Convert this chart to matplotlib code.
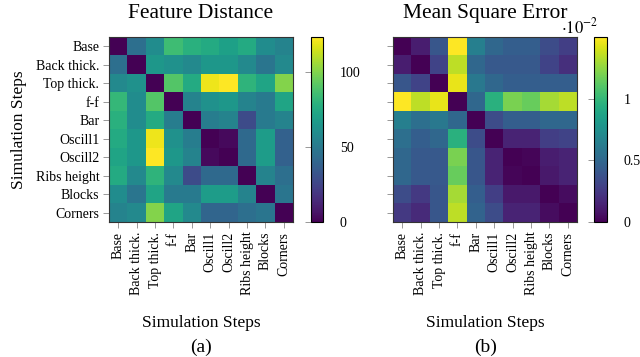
import numpy as np
import matplotlib.pyplot as plt

plt.rcParams['font.family'] = ['Liberation Serif', 'DejaVu Serif']
plt.rcParams['mathtext.fontset'] = 'stix'

steps = ["Base", "Back thick.", "Top thick.", "f-f", "Bar", "Oscill1",
         "Oscill2", "Ribs height", "Blocks", "Corners"]

# feature distance matrix
featDist = [
    [0, 45, 60, 85, 78, 75, 70, 75, 60, 55],
    [45, 0, 65, 62, 58, 65, 65, 58, 48, 58],
    [58, 62, 0, 90, 75, 120, 123, 80, 72, 100],
    [82, 60, 90, 0, 55, 62, 65, 55, 50, 72],
    [78, 60, 75, 52, 0, 52, 55, 28, 50, 55],
    [75, 65, 120, 62, 52, 0, 3, 42, 68, 38],
    [72, 65, 123, 65, 55, 3, 0, 42, 68, 38],
    [75, 58, 80, 58, 28, 42, 42, 0, 55, 45],
    [60, 48, 72, 50, 50, 68, 68, 55, 0, 48],
    [55, 58, 100, 72, 58, 40, 40, 45, 48, 0],
]

# mean square error (x 1e-2)
mse = [
    [0, 0.12, 0.40, 1.50, 0.65, 0.50, 0.45, 0.45, 0.35, 0.28],
    [0.12, 0, 0.30, 1.35, 0.50, 0.42, 0.42, 0.42, 0.30, 0.20],
    [0.40, 0.30, 0, 1.45, 0.60, 0.50, 0.45, 0.45, 0.45, 0.45],
    [1.50, 1.35, 1.45, 0, 0.50, 0.95, 1.20, 1.15, 1.30, 1.35],
    [0.65, 0.55, 0.60, 0.50, 0, 0.35, 0.45, 0.45, 0.50, 0.50],
    [0.55, 0.45, 0.50, 0.95, 0.35, 0, 0.15, 0.15, 0.28, 0.30],
    [0.50, 0.42, 0.42, 1.20, 0.40, 0.15, 0, 0.02, 0.12, 0.15],
    [0.50, 0.42, 0.42, 1.15, 0.40, 0.15, 0.02, 0, 0.10, 0.15],
    [0.35, 0.25, 0.40, 1.30, 0.45, 0.28, 0.10, 0.10, 0, 0.05],
    [0.25, 0.18, 0.40, 1.35, 0.48, 0.35, 0.15, 0.15, 0.05, 0],
]

W, H = 640, 357
fig = plt.figure(figsize=(6.4, 3.57), dpi=100)

def px(x0, y0, x1, y1):
    return [x0 / W, 1 - y1 / H, (x1 - x0) / W, (y1 - y0) / H]

def drawHeat(axRect, cbRect, data, title, cbTicks, cbLabels, showY):
    ax = fig.add_axes(px(*axRect))
    im = ax.imshow(np.array(data), cmap='viridis', aspect='auto',
                   vmin=0, vmax=np.max(data))
    ax.set_xticks(range(len(steps)))
    ax.set_xticklabels(steps, rotation=90, fontsize=10)
    ax.set_yticks(range(len(steps)))
    if showY:
        ax.set_yticklabels(steps, fontsize=10)
        ax.set_ylabel("Simulation Steps", fontsize=12.5, labelpad=6)
    else:
        ax.set_yticklabels([])
    ax.set_xlabel("Simulation Steps", fontsize=12.5, labelpad=14)
    ax.set_title(title, fontsize=15.5, pad=14)
    ax.tick_params(length=4, width=0.6, color='#888888', pad=3)
    for s in ax.spines.values():
        s.set_color('#333333')
        s.set_linewidth(0.8)
    cax = fig.add_axes(px(*cbRect))
    cb = fig.colorbar(im, cax=cax)
    cb.set_ticks(cbTicks)
    cb.set_ticklabels(cbLabels)
    cb.ax.tick_params(labelsize=10, length=4, width=0.6, color='#888888',
                      left=True, right=False, labelleft=False, labelright=True,
                      pad=8)
    cb.outline.set_linewidth(0.8)
    return ax, cax

drawHeat((109, 37, 293, 222), (311, 37, 323, 222), featDist,
         "Feature Distance", [0, 50, 100], ["0", "50", "100"], True)
ax2, cax2 = drawHeat((393, 37, 577, 222), (594, 37, 607, 222), mse,
                     "Mean Square Error", [0, 0.5, 1], ["0", "0.5", "1"], False)
fig.text(598 / W, 1 - 33 / H, r"$\cdot10^{-2}$", fontsize=12, ha='right', va='baseline')

fig.text(201 / W, 1 - 347 / H, "(a)", fontsize=14, ha='center', va='center')
fig.text(486 / W, 1 - 347 / H, "(b)", fontsize=14, ha='center', va='center')

plt.savefig("out.png", dpi=100)
